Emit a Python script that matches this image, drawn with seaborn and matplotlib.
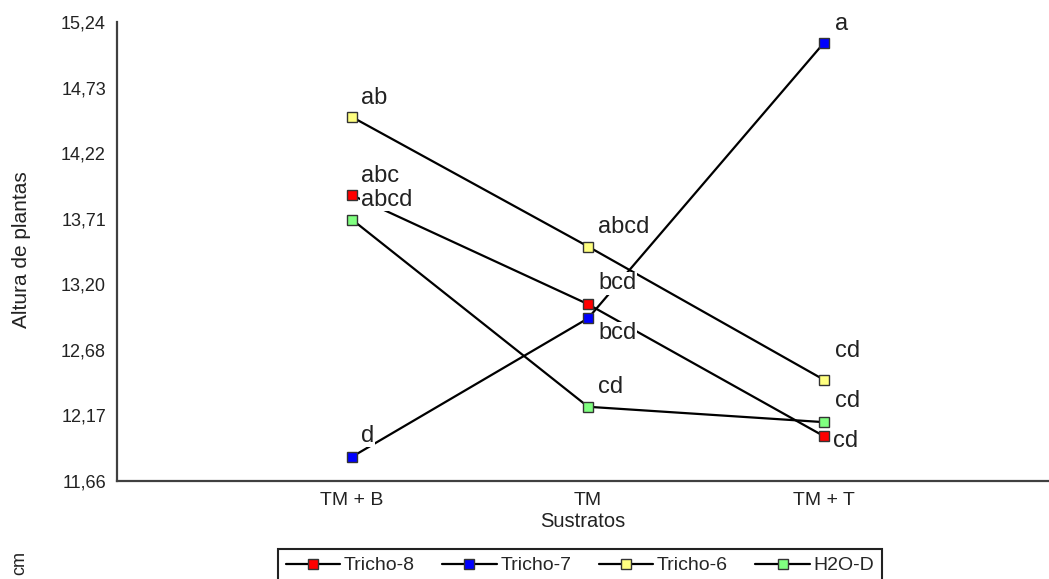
import numpy as np
import pandas as pd
import seaborn as sns
import matplotlib
matplotlib.use("Agg")
import matplotlib.pyplot as plt

# ---------------- data ----------------
categories = ["TM + B", "TM", "TM + T"]
series_names = ["Tricho-8", "Tricho-7", "Tricho-6", "H2O-D"]
tricho8 = [13.89, 13.04, 12.01]
tricho7 = [11.85, 12.93, 15.08]
tricho6 = [14.50, 13.49, 12.45]
h2od = [13.70, 12.24, 12.12]
letters_tricho8 = ["abc", "bcd", "cd"]
letters_tricho7 = ["d", "bcd", "a"]
letters_tricho6 = ["ab", "abcd", "cd"]
letters_h2od = ["abcd", "cd", "cd"]
ytick_labels = ["11,66", "12,17", "12,68", "13,20", "13,71", "14,22", "14,73", "15,24"]
y_min, y_max = 11.661, 15.2415

series_values = [tricho8, tricho7, tricho6, h2od]
series_letters = [letters_tricho8, letters_tricho7, letters_tricho6, letters_h2od]
colors = ["#FF0000", "#0000FF", "#FFFF80", "#80FF80"]
# label offsets in pixels (dx, dy) from each marker
label_offsets = [
    [(9, 13), (10, 15), (9, -11)],
    [(9, 15), (10, -21), (11, 13)],
    [(9, 13), (10, 14), (11, 23)],
    [(9, 14), (10, 14), (11, 15)],
]

sns.set_theme(style="white")
plt.rcParams["font.family"] = ["Liberation Sans", "DejaVu Sans"]

W, H = 1049, 579
fig = plt.figure(figsize=(W / 100, H / 100), dpi=100)
ax_left, ax_right, ax_top, ax_bottom = 117, 1049, 22, 481
ax = fig.add_axes([ax_left / W, 1 - ax_bottom / H, (ax_right - ax_left) / W, (ax_bottom - ax_top) / H])

rows = []
for name, vals in zip(series_names, series_values):
    for c, v in zip(categories, vals):
        rows.append({"Sustrato": c, "Serie": name, "Altura": v})
df = pd.DataFrame(rows)

for name, col in zip(series_names, colors):
    sub = df[df["Serie"] == name]
    sns.lineplot(data=sub, x="Sustrato", y="Altura", ax=ax, color="black", linewidth=1.6,
                 marker="s", markersize=7.5, markerfacecolor=col, markeredgecolor="#333333",
                 markeredgewidth=1.0, label=name, sort=False, zorder=3)

# letter labels
for vals, lets, offs in zip(series_values, series_letters, label_offsets):
    for i, (v, t, o) in enumerate(zip(vals, lets, offs)):
        ax.annotate(t, xy=(i, v), xytext=o, textcoords="offset pixels", ha="left", va="baseline",
                    fontsize=17, color="#222222", zorder=5,
                    bbox=dict(facecolor="white", edgecolor="none", pad=0.5))

ax.set_xlim(-0.996, 2.953)
ax.set_ylim(y_min, y_max)
ax.set_yticks(np.linspace(y_min, y_max, len(ytick_labels)))
ax.set_yticklabels(ytick_labels)
ax.set_xticks(range(len(categories)))
ax.set_xticklabels(categories)

for s in ["top", "right"]:
    ax.spines[s].set_visible(False)
for s in ["left", "bottom"]:
    ax.spines[s].set_color("#404040")
    ax.spines[s].set_linewidth(1.6)
ax.tick_params(axis="both", direction="out", length=5, width=1.2, color="#404040",
               labelsize=13, labelcolor="#222222", pad=3)
ax.tick_params(axis="x", labelsize=14)

ax.set_xlabel("Sustratos", fontsize=14.5, color="#222222", labelpad=2)
ax.set_ylabel("")
fig.text(22 / W, 1 - 250 / H, "Altura de plantas", rotation=90, ha="center", va="center",
         fontsize=15, color="#222222")
fig.text(20 / W, 1 - 563 / H, "cm", rotation=90, ha="center", va="center",
         fontsize=13, color="#222222")

handles, labels = ax.get_legend_handles_labels()
ax.get_legend().remove()
leg = fig.legend(handles, labels, loc="upper center", bbox_to_anchor=(580 / W, 1 - 549 / H),
                 ncol=4, frameon=True, fancybox=False, framealpha=1, edgecolor="#222222",
                 handlelength=2.8, handletextpad=0.2, columnspacing=1.4, borderpad=0.4,
                 borderaxespad=0, prop={"size": 14})
leg.get_frame().set_linewidth(1.5)

fig.savefig("out.png", dpi=100, facecolor="white")
